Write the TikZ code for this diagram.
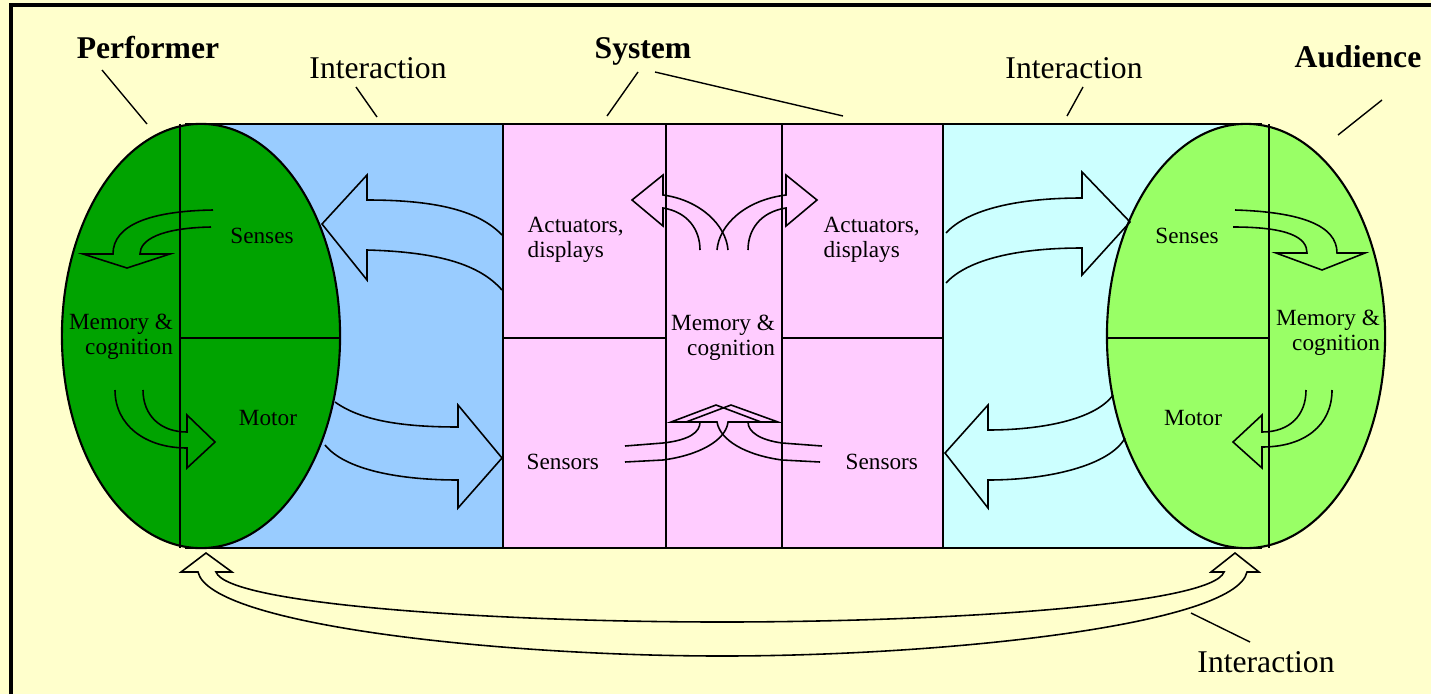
\documentclass[tikz,border=0pt]{standalone}
\usepackage{fontspec}
\setmainfont{Liberation Serif}
\usetikzlibrary{calc}

\definecolor{paper}{HTML}{FFFFCC}
\definecolor{performergreen}{HTML}{00A300}
\definecolor{audiencegreen}{HTML}{99FF66}
\definecolor{linkblue}{HTML}{99CCFF}
\definecolor{systempink}{HTML}{FFCCFF}
\definecolor{linkcyan}{HTML}{CCFFFF}

\tikzset{
	cell/.style={draw=black, line width=0.6pt},
	hollowarrow/.style={draw=black, line width=0.45pt, line join=miter},
	leader/.style={draw=black, line width=0.4pt},
	heading/.style={font=\fontsize{9}{10}\selectfont\bfseries, inner sep=0pt, anchor=base},
	tag/.style={font=\fontsize{9}{10}\selectfont, inner sep=0pt, anchor=base},
	part/.style={font=\fontsize{6.6}{7.2}\selectfont, inner sep=0pt}
}

\begin{document}
\begin{tikzpicture}[x=0.01cm, y=-0.01cm]
	\useasboundingbox (0,0) rectangle (1431,694);
	\fill[paper] (0,0) rectangle (1431,694);
	\draw[line width=0.9pt] (11,694) -- (11,5) -- (1431,5);

	\fill[linkblue] (192,124) rectangle (503,548);
	\fill[systempink] (503,124) rectangle (943,548);
	\fill[linkcyan] (943,124) rectangle (1255,548);
	\draw[cell] (185,124) -- (1262,124);
	\draw[cell] (185,548) -- (1262,548);
	\draw[cell] (503,124) -- (503,548);
	\draw[cell] (666,124) -- (666,548);
	\draw[cell] (782,124) -- (782,548);
	\draw[cell] (943,124) -- (943,548);
	\draw[cell] (503,338) -- (666,338);
	\draw[cell] (782,338) -- (943,338);

	\filldraw[cell, fill=performergreen] (201,336) ellipse [x radius=1.39cm, y radius=2.12cm];
	\draw[cell] (180,124) -- (180,548);
	\draw[cell] (180,338) -- (340,338);

	\filldraw[cell, fill=audiencegreen] (1246,336) ellipse [x radius=1.39cm, y radius=2.12cm];
	\draw[cell] (1269,124) -- (1269,548);
	\draw[cell] (1107,338) -- (1269,338);

	\draw[hollowarrow] (502,235) .. controls (480,212) and (440,200) .. (367,200) -- (367,175) -- (322,224) -- (367,280) -- (367,250) .. controls (440,252) and (480,265) .. (502,290);
	\draw[hollowarrow] (335,402) .. controls (360,420) and (400,427) .. (458,427) -- (458,405) -- (502,458) -- (458,508) -- (458,480) .. controls (400,480) and (345,470) .. (325,445);
	\draw[hollowarrow] (946,233) .. controls (965,212) and (1010,198) .. (1082,198) -- (1082,172) -- (1130,222) -- (1082,275) -- (1082,248) .. controls (1010,248) and (965,262) .. (946,283);
	\draw[hollowarrow] (1113,395) .. controls (1095,420) and (1040,430) .. (988,430) -- (988,405) -- (945,453) -- (988,508) -- (988,480) .. controls (1050,480) and (1110,465) .. (1125,438);

	\draw[hollowarrow] (213,210) .. controls (150,211) and (113,225) .. (113,254) -- (83,254) -- (127,268) -- (170,254) -- (140,254) .. controls (140,240) and (160,228) .. (211,227);
	\draw[hollowarrow] (115,390) .. controls (115,425) and (145,448) .. (187,448) -- (187,468) -- (215,442) -- (187,415) -- (187,432) .. controls (160,432) and (143,415) .. (143,390);
	\draw[hollowarrow] (1235,210) .. controls (1300,212) and (1337,225) .. (1337,253) -- (1365,253) -- (1322,270) -- (1276,253) -- (1307,253) .. controls (1307,238) and (1290,227) .. (1233,227);
	\draw[hollowarrow] (1332,390) .. controls (1332,425) and (1305,447) .. (1262,447) -- (1262,468) -- (1233,442) -- (1262,415) -- (1262,432) .. controls (1290,432) and (1306,415) .. (1306,390);

	\draw[hollowarrow] (728,250) .. controls (726,225) and (700,200) .. (663,195) -- (663,175) -- (632,200) -- (663,226) -- (663,208) .. controls (688,212) and (700,230) .. (700,250);
	\draw[hollowarrow] (717,250) .. controls (719,225) and (745,200) .. (786,195) -- (786,175) -- (817,200) -- (786,226) -- (786,208) .. controls (760,212) and (748,230) .. (748,250);

	\draw[hollowarrow] (625,446) -- (663,443) .. controls (690,440) and (700,432) .. (700,422) -- (671,422) -- (716,405) -- (761,422) -- (728,422) .. controls (726,440) and (700,455) .. (663,460) -- (625,462);
	\draw[hollowarrow] (822,446) -- (782,443) .. controls (760,440) and (748,432) .. (748,422) -- (778,422) -- (731,405) -- (686,422) -- (717,422) .. controls (720,440) and (745,455) .. (782,460) -- (820,462);

	\draw[hollowarrow] (198,572) .. controls (210,625) and (500,656) .. (722,656) .. controls (945,656) and (1235,625) .. (1247,572) -- (1259,572) -- (1235,553) -- (1211,572) -- (1224,572) .. controls (1212,605) and (945,622) .. (722,622) .. controls (500,622) and (228,605) .. (216,572) -- (232,572) -- (206,553) -- (181,572) -- cycle;

	\node[heading] (performer) at (148,58) {Performer};
	\node[tag] (interactionL) at (378,78) {Interaction};
	\node[heading] (system) at (643,58) {System};
	\node[tag] (interactionR) at (1074,78) {Interaction};
	\node[heading] (audience) at (1358,67) {Audience};
	\node[tag] (interactionB) at (1266,672) {Interaction};

	\coordinate (performerend) at (147,124);
	\coordinate (interactionLend) at (377,117);
	\coordinate (systemLend) at (607,116);
	\coordinate (systemRend) at (843,116);
	\coordinate (interactionRend) at (1067,116);
	\coordinate (audienceend) at (1338,135);
	\coordinate (interactionBend) at (1191,613);

	\draw[leader] ([shift={(-46,12)}]performer.base) -- (performerend);
	\draw[leader] ([shift={(-22,9)}]interactionL.base) -- (interactionLend);
	\draw[leader] ([shift={(-5,14)}]system.base) -- (systemLend);
	\draw[leader] ([shift={(12,14)}]system.base) -- (systemRend);
	\draw[leader] ([shift={(9,9)}]interactionR.base) -- (interactionRend);
	\draw[leader] ([shift={(24,33)}]audience.base) -- (audienceend);
	\draw[leader] ([shift={(-16,-30)}]interactionB.base) -- (interactionBend);

	\node[part] (sensesP) at (262,236) {Senses};
	\node[part, align=right] (memoryP) at (121,337) {Memory \&\\cognition};
	\node[part] (motorP) at (268,418) {Motor};
	\node[part, align=left, anchor=west] (actuatorsL) at (527,240) {Actuators,\\displays};
	\node[part, anchor=west] (sensorsL) at (526,462) {Sensors};
	\node[part, align=right] (memoryS) at (723,338) {Memory \&\\cognition};
	\node[part, align=left, anchor=west] (actuatorsR) at (823,240) {Actuators,\\displays};
	\node[part, anchor=west] (sensorsR) at (845,462) {Sensors};
	\node[part] (sensesA) at (1187,236) {Senses};
	\node[part, align=right] (memoryA) at (1328,333) {Memory \&\\cognition};
	\node[part] (motorA) at (1193,418) {Motor};
\end{tikzpicture}
\end{document}
